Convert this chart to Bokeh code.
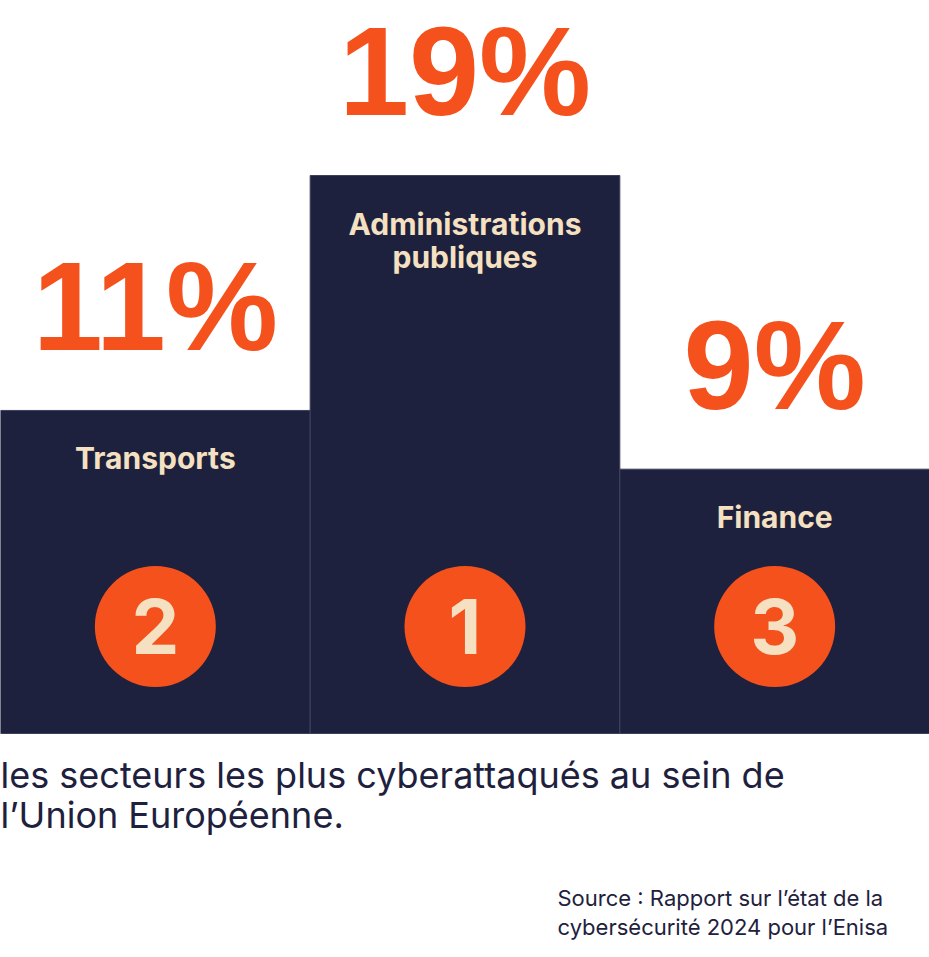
from bokeh.plotting import figure
from bokeh.models import Range1d, Label, ColumnDataSource
from bokeh.core.properties import value
from bokeh.embed import file_html
from bokeh.resources import INLINE

# ---- data ----
sectors = ["Transports", "Administrations\npubliques", "Finance"]
shares = [11, 19, 9]
share_labels = ["11%", "19%", "9%"]
ranks = ["2", "1", "3"]
caption_lines = ["les secteurs les plus cyberattaqués au sein de", "l\u2019Union Européenne."]
source_lines = ["Source : Rapport sur l\u2019état de la", "cybersécurité 2024 pour l\u2019Enisa"]

NAVY = "#1E213D"
ORANGE = "#F5511D"
CREAM = "#F5E1C2"
BIG_FONT = "Liberation Sans"
HEAD_FONT = "Inter"
BODY_FONT = "Inter"

W, H = 929, 957
BASE_PX = 733          # px from top where bars stand
TALLEST_PX = 558       # px height of the tallest bar
k = TALLEST_PX / max(shares)   # px per unit

p = figure(width=W, height=H, output_backend="svg", toolbar_location=None,
           x_range=Range1d(0, len(shares)),
           y_range=Range1d(-(H - BASE_PX) / k, BASE_PX / k),
           min_border=0, outline_line_color=None, background_fill_color="white",
           border_fill_color="white")
p.axis.visible = False
p.grid.visible = False

xs = [i + 0.5 for i in range(len(shares))]
src = ColumnDataSource(dict(x=xs, top=shares, sector=sectors, lab=share_labels, rank=ranks,
                            cy=[107 / k] * len(shares)))

p.vbar(x="x", top="top", bottom=0, width=1, source=src, fill_color=NAVY,
       line_color="#3d405c", line_width=1)

p.text(x="x", y="top", text="lab", source=src, text_font=value(BIG_FONT), text_font_style="bold",
       text_font_size="126px", text_color=ORANGE, text_align="center", text_baseline="alphabetic",
       y_offset=-104)

p.text(x="x", y="top", text="sector", source=src, text_font=value(HEAD_FONT), text_font_style="bold",
       text_font_size="30px", text_color=CREAM, text_align="center", text_baseline="top",
       y_offset=30, text_line_height=0.94)

p.scatter(x="x", y="cy", source=src, size=121, marker="circle", fill_color=ORANGE, line_color=None)
p.text(x="x", y="cy", text="rank", source=src, text_font=value(HEAD_FONT), text_font_style="bold",
       text_font_size="76px", text_color=CREAM, text_align="center", text_baseline="middle")

for line, yb in zip(caption_lines, [183, 143]):
    p.add_layout(Label(x=0, y=yb, x_units="screen", y_units="screen", text=line,
                       text_font=BODY_FONT, text_font_size="36px", text_color=NAVY,
                       text_baseline="alphabetic"))
for line, yb in zip(source_lines, [60, 31]):
    p.add_layout(Label(x=557, y=yb, x_units="screen", y_units="screen", text=line,
                       text_font=BODY_FONT, text_font_size="22px", text_color=NAVY,
                       text_baseline="alphabetic"))

open("out.html", "w").write(file_html(p, INLINE))
